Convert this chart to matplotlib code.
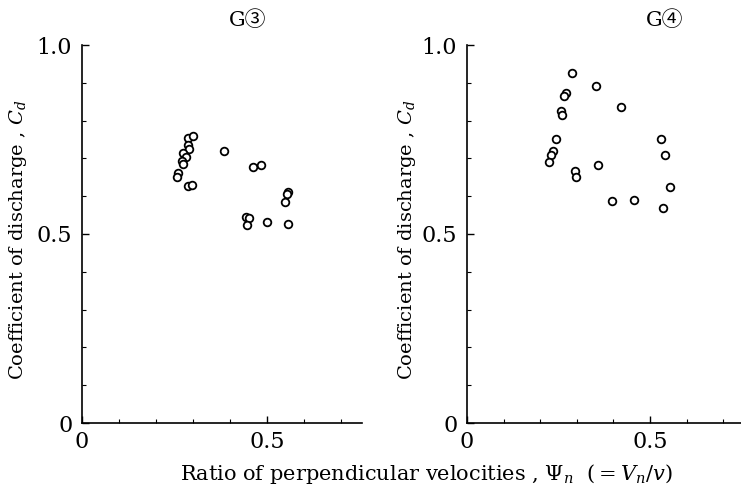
import matplotlib
matplotlib.use("Agg")
import matplotlib.pyplot as plt
from matplotlib.ticker import MultipleLocator, FixedLocator, FixedFormatter

plt.rcParams['font.family'] = ['DejaVu Serif', 'Noto Sans CJK JP', 'DejaVu Sans']
plt.rcParams['mathtext.fontset'] = 'dejavuserif'

# G3 panel data (psi_n, Cd)
g3_x = [0.286, 0.300, 0.286, 0.289, 0.273, 0.281, 0.270, 0.273, 0.259, 0.257,
        0.286, 0.297, 0.384, 0.462, 0.484, 0.557, 0.554, 0.549, 0.443, 0.451,
        0.446, 0.500, 0.557]
g3_y = [0.754, 0.759, 0.735, 0.725, 0.714, 0.704, 0.693, 0.685, 0.661, 0.651,
        0.627, 0.630, 0.720, 0.677, 0.683, 0.611, 0.606, 0.585, 0.545, 0.542,
        0.524, 0.532, 0.526]

# G4 panel data
g4_x = [0.287, 0.352, 0.270, 0.265, 0.421, 0.257, 0.260, 0.243, 0.235, 0.230,
        0.224, 0.358, 0.295, 0.298, 0.396, 0.456, 0.530, 0.541, 0.555, 0.536]
g4_y = [0.926, 0.892, 0.873, 0.865, 0.836, 0.825, 0.815, 0.751, 0.720, 0.709,
        0.690, 0.683, 0.667, 0.651, 0.587, 0.590, 0.751, 0.709, 0.624, 0.569]

titles = ["G\u2462", "G\u2463"]
ylabel = "Coefficient of discharge , $C_d$"
xlabel = "Ratio of perpendicular velocities , $\\Psi_n$  $(= V_n/v)$"

fig = plt.figure(figsize=(7.41, 4.9), dpi=100)
ax1 = fig.add_axes([82 / 741, 67 / 490, 280 / 741, 378 / 490])
ax2 = fig.add_axes([467 / 741, 67 / 490, 274.5 / 741, 378 / 490])

panels = [(ax1, g3_x, g3_y, titles[0], 0.59, -0.19),
          (ax2, g4_x, g4_y, titles[1], 0.72, -0.18)]

for ax, xs, ys, title, tx, lx in panels:
    ax.plot(xs, ys, 'o', markersize=5.5, markerfacecolor='white',
            markeredgecolor='black', markeredgewidth=1.3, linestyle='none')
    ax.set_xlim(0, 0.757 if ax is ax1 else 0.75)
    ax.set_ylim(0, 1.0)
    ax.spines['top'].set_visible(False)
    ax.spines['right'].set_visible(False)
    ax.spines['left'].set_linewidth(1.2)
    ax.spines['bottom'].set_linewidth(1.2)

    ax.yaxis.set_major_locator(FixedLocator([0, 0.5, 1.0]))
    ax.yaxis.set_major_formatter(FixedFormatter(["0", "0.5", "1.0"]))
    ax.yaxis.set_minor_locator(MultipleLocator(0.1))
    ax.xaxis.set_major_locator(FixedLocator([0, 0.5]))
    ax.xaxis.set_major_formatter(FixedFormatter(["0", "0.5"]))
    ax.xaxis.set_minor_locator(MultipleLocator(0.1))

    ax.tick_params(which='both', direction='in', labelsize=16)
    ax.tick_params(which='major', length=5, width=1)
    ax.tick_params(which='minor', length=3, width=0.8)
    ax.tick_params(axis='y', pad=7)
    ax.tick_params(axis='x', pad=6)

    ax.set_ylabel(ylabel, fontsize=14)
    ax.yaxis.set_label_coords(lx, 0.484)
    ax.text(tx, 1.065, title, transform=ax.transAxes, ha='center', va='center',
            fontsize=15)

fig.text(426 / 741, 1 - 474 / 490, xlabel, ha='center', va='center', fontsize=15)

plt.savefig("out.png", dpi=100)
